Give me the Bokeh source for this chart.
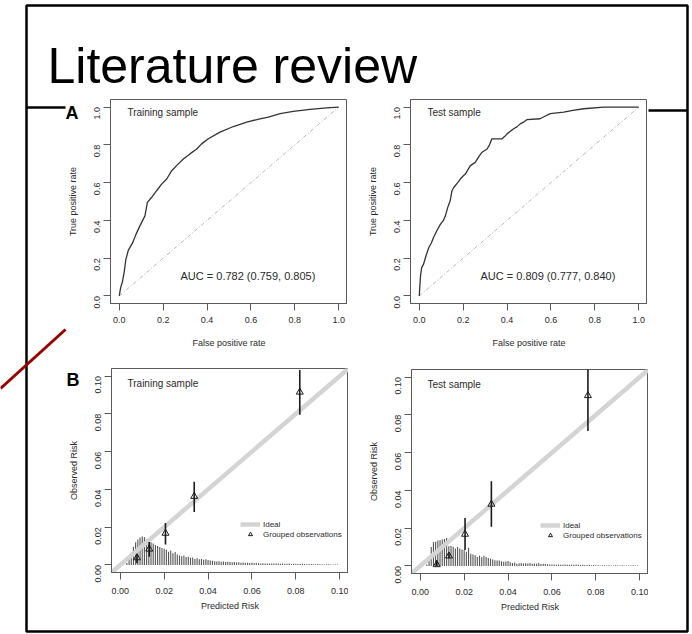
import math
from bokeh.plotting import figure
from bokeh.models import (Range1d, FixedTicker, PrintfTickFormatter, Label,
                          Legend, LegendItem)
from bokeh.layouts import column
from bokeh.embed import file_html
from bokeh.resources import INLINE
from bokeh.core.properties import value

# ---------------- data ----------------
slide_title = "Literature review"
panel_letters = ["A", "B"]

roc_train_fpr = [0.0, 0.006, 0.015, 0.023, 0.030, 0.041, 0.061, 0.076, 0.094, 0.117,
                 0.128, 0.147, 0.170, 0.193, 0.216, 0.239, 0.261, 0.292, 0.322, 0.353,
                 0.375, 0.406, 0.459, 0.520, 0.581, 0.641, 0.679, 0.733, 0.793, 0.869,
                 0.945, 1.0]
roc_train_tpr = [0.0, 0.043, 0.078, 0.131, 0.193, 0.241, 0.282, 0.326, 0.371, 0.424,
                 0.495, 0.521, 0.557, 0.592, 0.619, 0.663, 0.690, 0.725, 0.752, 0.778,
                 0.805, 0.832, 0.867, 0.897, 0.920, 0.938, 0.947, 0.965, 0.977, 0.988,
                 0.996, 1.0]
roc_test_fpr = [0.0, 0.003, 0.006, 0.011, 0.020, 0.030, 0.043, 0.055, 0.065, 0.080,
                0.096, 0.110, 0.119, 0.130, 0.141, 0.149, 0.157, 0.175, 0.187, 0.200,
                0.210, 0.220, 0.233, 0.255, 0.270, 0.286, 0.309, 0.320, 0.331, 0.377,
                0.390, 0.400, 0.415, 0.430, 0.445, 0.460, 0.475, 0.490, 0.550, 0.570,
                0.597, 0.658, 0.700, 0.749, 0.840, 1.0]
roc_test_tpr = [0.0, 0.060, 0.110, 0.150, 0.170, 0.210, 0.255, 0.280, 0.309, 0.345,
                0.379, 0.400, 0.424, 0.470, 0.504, 0.557, 0.574, 0.600, 0.619, 0.635,
                0.645, 0.665, 0.690, 0.707, 0.735, 0.761, 0.778, 0.800, 0.832, 0.832,
                0.845, 0.858, 0.872, 0.885, 0.895, 0.911, 0.920, 0.933, 0.938, 0.950,
                0.965, 0.973, 0.982, 0.991, 1.000, 1.0]
roc_diag = [0.0, 1.0]
roc_titles = ["Training sample", "Test sample"]
auc_texts = ["AUC = 0.782 (0.759, 0.805)", "AUC = 0.809 (0.777, 0.840)"]

# histogram of predicted risk (bin positions, heights on the observed-risk scale)
hist_bins = [0.003, 0.004, 0.005, 0.006, 0.007, 0.008, 0.009, 0.010, 0.011, 0.012,
             0.013, 0.014, 0.015, 0.016, 0.017, 0.018, 0.019, 0.020, 0.021, 0.022,
             0.023, 0.024, 0.025, 0.026, 0.027, 0.028, 0.029, 0.030, 0.031, 0.032,
             0.033, 0.034, 0.035, 0.036, 0.037, 0.038, 0.039, 0.040, 0.041, 0.042,
             0.043, 0.044, 0.045, 0.046, 0.047, 0.048, 0.049, 0.050, 0.051, 0.052,
             0.053, 0.054, 0.055, 0.056, 0.057, 0.058, 0.059, 0.060, 0.061, 0.062,
             0.063, 0.064, 0.065, 0.066, 0.067, 0.068, 0.069, 0.070, 0.071, 0.072,
             0.073, 0.074, 0.075, 0.076, 0.077, 0.078, 0.079, 0.080, 0.081, 0.082,
             0.083, 0.084, 0.085, 0.086, 0.087, 0.088, 0.089, 0.090, 0.091, 0.092,
             0.093, 0.094, 0.095, 0.096, 0.097, 0.098, 0.099]
hist_train = [0.0010, 0.0030, 0.0065, 0.0095, 0.0120, 0.0135, 0.0145, 0.0150, 0.0146, 0.0138,
              0.0130, 0.0120, 0.0114, 0.0105, 0.0100, 0.0095, 0.0090, 0.0086, 0.0080, 0.0070,
              0.0076, 0.0062, 0.0068, 0.0055, 0.0050, 0.0046, 0.0050, 0.0042, 0.0044, 0.0038,
              0.0040, 0.0032, 0.0036, 0.0030, 0.0032, 0.0028, 0.0030, 0.0026, 0.0024, 0.0022,
              0.0020, 0.0018, 0.0019, 0.0017, 0.0018, 0.0016, 0.0017, 0.0015, 0.0014, 0.0015,
              0.0013, 0.0014, 0.0012, 0.0013, 0.0011, 0.0012, 0.0010, 0.0011, 0.0009, 0.0010,
              0.0009, 0.0008, 0.0009, 0.0008, 0.0008, 0.0007, 0.0008, 0.0007, 0.0007, 0.0008,
              0.0006, 0.0007, 0.0006, 0.0006, 0.0007, 0.0005, 0.0006, 0.0006, 0.0005, 0.0005,
              0.0006, 0.0005, 0.0004, 0.0005, 0.0005, 0.0004, 0.0004, 0.0005, 0.0004, 0.0004,
              0.0003, 0.0004, 0.0004, 0.0003, 0.0003, 0.0003, 0.0003]
hist_test = [0.0008, 0.0048, 0.0100, 0.0125, 0.0128, 0.0135, 0.0136, 0.0140, 0.0143, 0.0148,
             0.0104, 0.0105, 0.0102, 0.0092, 0.0100, 0.0093, 0.0087, 0.0085, 0.0075, 0.0096,
             0.0065, 0.0060, 0.0056, 0.0048, 0.0054, 0.0046, 0.0054, 0.0048, 0.0042, 0.0038,
             0.0034, 0.0030, 0.0029, 0.0029, 0.0025, 0.0022, 0.0023, 0.0026, 0.0020, 0.0016,
             0.0018, 0.0012, 0.0014, 0.0016, 0.0013, 0.0014, 0.0013, 0.0015, 0.0012, 0.0013,
             0.0011, 0.0016, 0.0010, 0.0012, 0.0010, 0.0009, 0.0008, 0.0007, 0.0007, 0.0006,
             0.0007, 0.0006, 0.0006, 0.0007, 0.0006, 0.0006, 0.0007, 0.0006, 0.0007, 0.0006,
             0.0005, 0.0006, 0.0005, 0.0005, 0.0006, 0.0004, 0.0005, 0.0004, 0.0004, 0.0003,
             0.0004, 0.0004, 0.0003, 0.0004, 0.0003, 0.0003, 0.0004, 0.0003, 0.0003, 0.0004,
             0.0003, 0.0003, 0.0003, 0.0003, 0.0004, 0.0003, 0.0003]

train_pred = [0.0076, 0.0132, 0.0206, 0.0337, 0.0818]
train_obs = [0.0038, 0.0084, 0.0168, 0.0363, 0.0915]
train_lo = [0.0009, 0.0043, 0.0108, 0.0280, 0.0795]
train_hi = [0.0057, 0.0121, 0.0222, 0.0440, 0.1032]

test_pred = [0.0075, 0.0131, 0.0204, 0.0324, 0.0764]
test_obs = [0.0007, 0.0053, 0.0168, 0.0327, 0.0902]
test_lo = [0.0000, 0.0041, 0.0084, 0.0208, 0.0715]
test_hi = [0.0030, 0.0068, 0.0254, 0.0448, 0.1060]

roc_ticks = [0.0, 0.2, 0.4, 0.6, 0.8, 1.0]
cal_ticks = [0.0, 0.02, 0.04, 0.06, 0.08, 0.10]

FONT = "Liberation Sans"
INK = "#2a2a2a"
AXC = "#5a5a5a"
LB = 61  # common left border of every figure (column layouts align left borders)


def style_axes(p, ticks, fmt, xlab, ylab, x_tick_standoff, x_label_standoff):
    p.grid.visible = False
    p.outline_line_color = AXC
    p.outline_line_width = 1
    p.background_fill_color = "white"
    p.border_fill_color = None
    for ax in (p.xaxis[0], p.yaxis[0]):
        ax.ticker = FixedTicker(ticks=ticks)
        ax.formatter = PrintfTickFormatter(format=fmt)
        ax.axis_line_color = AXC
        ax.major_tick_line_color = AXC
        ax.major_tick_out = 7
        ax.major_tick_in = 0
        ax.minor_tick_line_color = None
        ax.major_label_text_font = FONT
        ax.major_label_text_font_size = "9px"
        ax.major_label_text_color = INK
        ax.axis_label_text_font = FONT
        ax.axis_label_text_font_size = "9px"
        ax.axis_label_text_font_style = "normal"
        ax.axis_label_text_color = INK
    p.xaxis[0].axis_label = xlab
    p.yaxis[0].axis_label = ylab
    p.xaxis[0].major_label_standoff = x_tick_standoff
    p.xaxis[0].axis_label_standoff = x_label_standoff
    p.yaxis[0].major_label_orientation = math.pi / 2
    p.yaxis[0].major_label_standoff = 6
    p.yaxis[0].axis_label_standoff = 11


def make_fig(frame_left, top, lrange, min_top):
    p = figure(frame_width=237, frame_height=204,
               x_range=Range1d(*lrange), y_range=Range1d(*lrange),
               min_border_left=LB, min_border_top=min_top,
               min_border_right=0, min_border_bottom=50,
               toolbar_location=None, output_backend="svg")
    p.styles = {"position": "absolute", "left": f"{frame_left - LB}px", "top": f"{top}px"}
    return p


def roc_panel(frame_left, top, fpr, tpr, title, auc):
    p = make_fig(frame_left, top, (-0.04, 1.04), 9)
    style_axes(p, roc_ticks, "%.1f", "False positive rate", "True positive rate", 6, 12)
    p.line(roc_diag, roc_diag, line_color="#b0b0b0", line_width=0.9, line_dash="4 2 1 2")
    p.line(fpr, tpr, line_color="#333333", line_width=1.3)
    p.add_layout(Label(x=0.037, y=0.972, text=title, text_font=FONT, text_font_size="10px",
                       text_color=INK, text_baseline="middle"))
    p.add_layout(Label(x=0.279, y=0.103, text=auc, text_font=FONT, text_font_size="11px",
                       text_color=INK, text_baseline="middle"))
    return p


def cal_panel(frame_left, top, hist, pred, obs, lo, hi, title):
    rng = (-0.004, 0.104)
    p = make_fig(frame_left, top, rng, 33)
    style_axes(p, cal_ticks, "%.2f", "Predicted Risk", "Observed Risk", 8, 4)
    p.segment(x0=hist_bins, y0=[0.0] * len(hist_bins), x1=hist_bins, y1=hist,
              line_color="#555555", line_width=1.1)
    ideal = p.line([rng[0], rng[1]], [rng[0], rng[1]], line_color="#d4d4d4", line_width=4.5)
    p.segment(x0=pred, y0=lo, x1=pred, y1=hi, line_color="#1a1a1a", line_width=1.6)
    pts = p.scatter(pred, obs, marker="triangle", size=7, fill_color=None,
                    line_color="#1a1a1a", line_width=1)
    p.add_layout(Label(x=0.0033, y=0.0962, text=title, text_font=FONT, text_font_size="10px",
                       text_color=INK, text_baseline="middle"))
    leg = Legend(items=[LegendItem(label="Ideal", renderers=[ideal]),
                        LegendItem(label="Grouped observations", renderers=[pts])],
                 location=(129, 33), padding=0, margin=0, spacing=0,
                 glyph_width=20, glyph_height=10, label_height=10, label_standoff=3,
                 label_text_font=FONT, label_text_font_size="8px", label_text_color=INK,
                 border_line_color=None, background_fill_alpha=0)
    p.add_layout(leg)
    return p


# ---------------- slide background ----------------
bg = figure(frame_width=692, frame_height=634, x_range=Range1d(0, 692), y_range=Range1d(634, 0),
            min_border_left=LB, min_border_right=0, min_border_top=0, min_border_bottom=0,
            toolbar_location=None, output_backend="svg")
bg.styles = {"position": "relative", "left": f"-{LB}px"}
bg.axis.visible = False
bg.grid.visible = False
bg.outline_line_color = None
bg.background_fill_color = "white"
bg.border_fill_color = "white"
bg.quad(left=[26], right=[687], top=[5], bottom=[631], fill_color=None,
        line_color="black", line_width=2.5)
bg.segment(x0=[26, 648], y0=[107, 110], x1=[65, 687], y1=[107, 110],
           line_color="black", line_width=2.5)
bg.segment(x0=[0], y0=[388], x1=[65], y1=[329], line_color="#9b0000", line_width=3)
bg.text(x=[47], y=[65], text=[slide_title], text_font=value(FONT), text_font_size="50px",
        text_color="black", text_baseline="alphabetic")
bg.text(x=[65, 66], y=[112, 379], text=panel_letters, text_font=value(FONT),
        text_font_size="18px", text_font_style="bold", text_color="black",
        text_baseline="alphabetic")

pA = roc_panel(110, 90, roc_train_fpr, roc_train_tpr, roc_titles[0], auc_texts[0])
pB = roc_panel(410, 90, roc_test_fpr, roc_test_tpr, roc_titles[1], auc_texts[1])
pC = cal_panel(111, 335, hist_train, train_pred, train_obs, train_lo, train_hi, roc_titles[0])
pD = cal_panel(411, 336, hist_test, test_pred, test_obs, test_lo, test_hi, roc_titles[1])

root = column(bg, pA, pB, pC, pD)
root.styles = {"position": "relative"}

open("out.html", "w").write(file_html(root, INLINE))
